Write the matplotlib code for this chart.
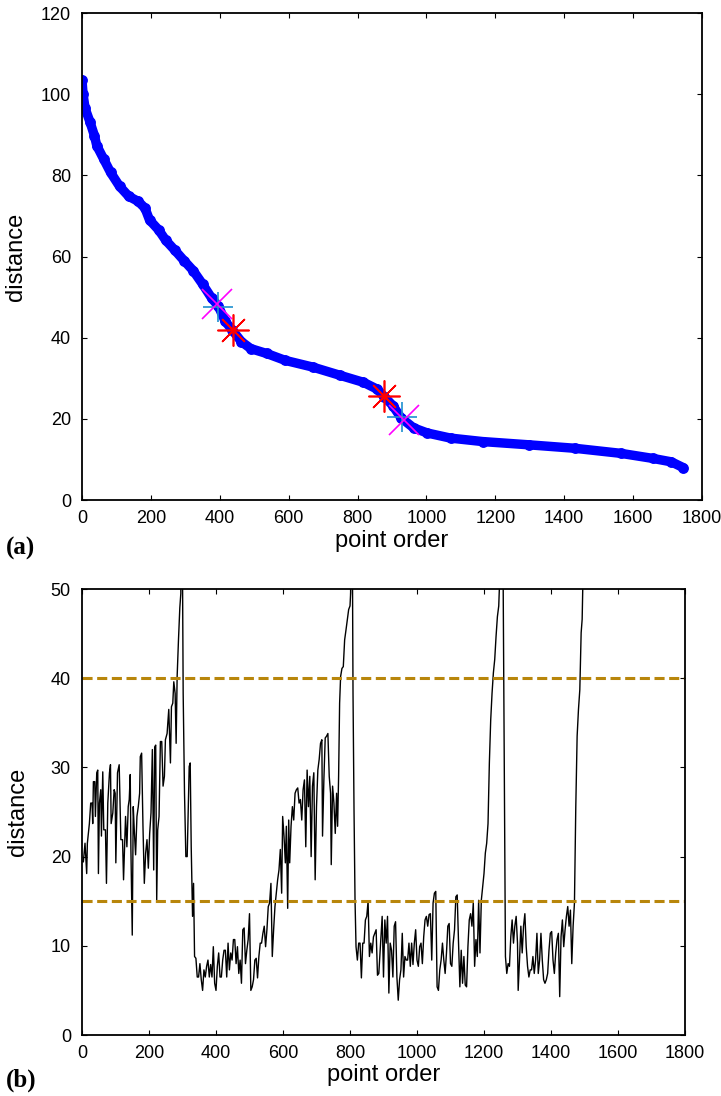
import matplotlib
matplotlib.use("Agg")
import matplotlib.pyplot as plt

plt.rcParams["font.family"] = ["Liberation Sans", "DejaVu Sans"]

# (a) sorted reachability distances
order_a = [0, 3, 9, 23, 36, 43, 63, 83, 109, 136, 163, 183, 196, 223, 243, 270,
           296, 323, 350, 376, 396, 416, 436, 463, 490, 536, 590, 670, 750, 817,
           857, 877, 903, 926, 963, 1003, 1070, 1163, 1297, 1430, 1564, 1657,
           1711, 1745]
dist_a = [103.5, 100, 96.5, 93.2, 89.8, 87.3, 84, 80.7, 77.3, 74.8, 73.6, 71.9,
          69, 66.5, 64, 61.5, 59, 56.5, 53.2, 49.8, 47.75, 44, 41.9, 39, 37.3,
          36.1, 34.4, 32.75, 30.7, 29, 27.3, 25.5, 23.2, 20.25, 17.75, 16.5,
          15.25, 14.4, 13.6, 12.75, 11.5, 10.25, 9.4, 8]

# highlighted points on (a)
plus_x, plus_y = [396, 928], [47.6, 20.5]
cross_x, cross_y = [391, 936], [48.4, 19.7]
star_x, star_y = [437, 877], [42.0, 25.6]

# (b) reachability plot
order_b = [0, 4, 9, 14, 16, 22, 26, 30, 32, 34, 38, 40, 44, 47, 49, 52, 56, 58,
           62, 65, 70, 73, 77, 82, 85, 87, 92, 96, 99, 101, 106, 111, 116, 121,
           124, 127, 130, 134, 138, 141, 144, 146, 150, 153, 156, 160, 164, 168,
           172, 174, 178, 182, 186, 190, 194, 198, 202, 206, 210, 214, 217, 220,
           223, 226, 230, 234, 238, 242, 246, 249, 254, 259, 264, 267, 271, 274,
           278, 281, 284, 288, 292, 295, 297, 300, 302, 306, 310, 314, 317, 320,
           323, 326, 330, 333, 336, 340, 344, 348, 352, 356, 360, 364, 368, 372,
           376, 380, 384, 388, 392, 396, 400, 404, 408, 412, 416, 420, 424, 428,
           432, 436, 440, 444, 448, 452, 456, 460, 464, 468, 472, 476, 480, 484,
           488, 492, 496, 500, 504, 508, 512, 516, 520, 524, 528, 532, 536, 540,
           544, 548, 552, 556, 560, 564, 568, 572, 576, 580, 584, 588, 592, 596,
           599, 603, 607, 610, 614, 617, 620, 624, 628, 632, 636, 640, 644, 648,
           652, 656, 660, 664, 668, 672, 676, 680, 684, 688, 692, 696, 700, 704,
           708, 712, 716, 718, 722, 726, 730, 734, 738, 742, 744, 748, 752, 756,
           760, 763, 766, 769, 772, 776, 780, 784, 788, 792, 796, 800, 802, 804,
           809, 812, 815, 818, 822, 826, 830, 834, 838, 842, 846, 850, 854, 858,
           862, 866, 870, 874, 878, 882, 886, 892, 896, 900, 904, 908, 912, 916,
           920, 924, 928, 932, 936, 940, 944, 948, 952, 956, 960, 964, 968, 972,
           976, 980, 984, 988, 992, 996, 1000, 1004, 1008, 1012, 1016, 1020,
           1024, 1028, 1032, 1036, 1040, 1044, 1048, 1052, 1056, 1060, 1064,
           1068, 1072, 1076, 1080, 1084, 1088, 1092, 1096, 1100, 1104, 1108,
           1112, 1116, 1120, 1124, 1128, 1132, 1136, 1140, 1144, 1148, 1152,
           1156, 1160, 1164, 1168, 1172, 1176, 1180, 1184, 1188, 1192, 1196,
           1200, 1204, 1208, 1212, 1216, 1220, 1224, 1228, 1232, 1236, 1240,
           1244, 1246, 1250, 1257, 1264, 1268, 1272, 1276, 1280, 1284, 1288,
           1292, 1296, 1300, 1302, 1306, 1310, 1314, 1318, 1322, 1326, 1330,
           1334, 1338, 1342, 1346, 1350, 1354, 1358, 1362, 1366, 1370, 1374,
           1378, 1382, 1386, 1390, 1394, 1398, 1402, 1406, 1410, 1414, 1418,
           1422, 1426, 1430, 1434, 1438, 1442, 1446, 1450, 1454, 1458, 1462,
           1466, 1470, 1474, 1478, 1482, 1486, 1490, 1493, 1495, 1500]
dist_b = [19.5, 19.4, 21.5, 18.1, 21.5, 23.7, 26, 26, 23.7, 28.4, 28.4, 24.5,
          29.4, 29.7, 18.1, 26, 27.5, 22.3, 29.5, 23, 23, 17, 26, 29.4, 30.3,
          23.7, 24.9, 27.5, 27.1, 19.3, 29.4, 30.3, 21.9, 21.9, 17.4, 21.1,
          24.5, 21.1, 25.6, 26.4, 29.2, 20.8, 11.2, 25.6, 23, 20.2, 24.5, 25.6,
          27.1, 31.2, 31.6, 23.4, 17, 20.4, 21.9, 18.7, 22.6, 24.9, 32, 18.5,
          32.3, 32.5, 15.1, 23, 24.5, 32.9, 32.9, 27.9, 29, 33.1, 33.8, 36.5,
          30.5, 36.8, 37.2, 39.6, 38.3, 32.7, 40.2, 44.3, 47.9, 49.5, 85, 52,
          38.3, 27.1, 20, 20, 25.2, 30.1, 30.5, 21.1, 13.3, 17, 8.8, 8.6, 6.5,
          6.5, 8, 6.2, 5, 7.3, 6.5, 7.7, 8.4, 6.5, 7.9, 6.5, 9.9, 5.8, 5, 7.7,
          9.2, 6.5, 6.5, 8.4, 9.5, 9.5, 6.5, 10.3, 7.3, 9.2, 8.4, 10.7, 10.7, 8,
          9.9, 6.9, 8.4, 5.8, 11.8, 12, 8, 9.5, 10.7, 13.6, 5, 5.4, 6.2, 8.4,
          8.6, 6.4, 8.8, 10.3, 10.3, 11.4, 12.2, 9.9, 11.8, 14.4, 14.8, 17, 8.8,
          11.8, 14.4, 15.9, 17.4, 18.5, 20.8, 15.9, 24.5, 22.3, 19.3, 23.4,
          14.2, 24.1, 19.3, 23.4, 25.6, 24.1, 27.1, 27.5, 27.7, 26, 26.4, 24.1,
          27.5, 28.6, 21.1, 29.7, 25.6, 29, 20, 27.9, 29.4, 17.4, 25.6, 29.7,
          30.9, 32.7, 33.1, 22.3, 28.6, 33.3, 33.5, 33.8, 29, 27.1, 19.1, 27.9,
          26, 22.6, 27.1, 23.4, 29, 37.2, 40.2, 41.1, 41.3, 44.3, 45.4, 46.6,
          47.7, 48.1, 49.6, 80, 38.3, 25.2, 15.1, 9.9, 8.4, 10.3, 10.3, 6.4,
          10.3, 10.3, 12.9, 13.3, 15, 8.8, 10.3, 9.2, 11, 11.4, 11.8, 6.7, 6.9,
          10.7, 13.3, 6.5, 12.9, 10.3, 13.3, 4.7, 10.3, 9.5, 6.5, 12.2, 12.7,
          6.5, 3.9, 6.2, 7.3, 11.4, 6.5, 8.8, 8.4, 8.4, 10.3, 7.7, 10.3, 7.9,
          10.3, 11.8, 8.4, 7.7, 9.9, 10.3, 8, 11, 12.9, 13.3, 12.2, 13.5, 13.6,
          8.4, 14.8, 15.9, 16.1, 5.4, 5, 7.3, 8.4, 10.3, 8.4, 6.9, 9.2, 12.2,
          12.5, 8, 7.7, 10.3, 11.8, 15.5, 15.7, 10.3, 5.4, 9.5, 5.8, 8.8, 5.6,
          5.4, 9.9, 12.9, 13.6, 12.2, 14.8, 7.7, 10.7, 8.8, 15.1, 9.2, 15.1,
          16.6, 18.1, 20.4, 21.5, 23.7, 30.5, 35.3, 38.3, 40.6, 42.1, 44.7,
          46.9, 48.1, 50.2, 80, 52, 8.8, 6.9, 8, 7.7, 11, 12.9, 10.3, 12.2,
          13.3, 10.3, 5, 8.4, 12.2, 9.2, 12.2, 13.6, 9.9, 7.7, 6.5, 7.3, 7.3,
          8.8, 6.9, 8.4, 11.4, 6.9, 8.4, 11.4, 8.4, 6.2, 5.8, 6.2, 6.9, 9.5,
          11.4, 11.6, 8.4, 6.9, 9.2, 10.7, 11.4, 4.3, 11, 12.9, 9.9, 11.8, 13.3,
          14.4, 12.2, 14, 8, 12.2, 14.8, 25.6, 33.5, 36.5, 38.7, 45.1, 46.6,
          50.5, 60]

thresholds = [40, 15]

W, H = 721, 1096
fig = plt.figure(figsize=(W / 100, H / 100), dpi=100)

ax1 = fig.add_axes([82 / W, 1 - 500 / H, 620 / W, 487 / H])
ax2 = fig.add_axes([82 / W, 1 - 1035 / H, 603 / W, 446 / H])

# --- (a) ---
ax1.plot(order_a, dist_a, "-o", color="#0000ff", lw=6.8, ms=6.8,
         solid_capstyle="round", zorder=2)
ax1.plot(plus_x, plus_y, "+", color="#1e90d0", ms=22, mew=1.2, zorder=3)
ax1.plot(cross_x, cross_y, "x", color="#ff00ff", ms=21, mew=1.2, zorder=4)
ax1.plot(star_x, star_y, linestyle="none", marker=(8, 2, 0), color="#ff0000",
         ms=23, mew=1.2, zorder=5)
ax1.set_xlim(0, 1800)
ax1.set_ylim(0, 120)
ax1.set_xticks(range(0, 1801, 200))
ax1.set_yticks(range(0, 121, 20))

# --- (b) ---
ax2.plot(order_b, dist_b, color="black", lw=1.0)
for t in thresholds:
    ax2.axhline(t, color="#b8860b", lw=2.2, dashes=(3.3, 1.5))
ax2.set_xlim(0, 1800)
ax2.set_ylim(0, 50)
ax2.set_xticks(range(0, 1801, 200))
ax2.set_yticks(range(0, 51, 10))

for ax in (ax1, ax2):
    ax.tick_params(direction="in", top=True, right=True, length=3.6,
                   width=0.8, labelsize=13)
    ax.tick_params(axis="x", pad=7)
    ax.tick_params(axis="y", pad=8)
    for s in ax.spines.values():
        s.set_linewidth(1.3)
    ax.set_xlabel("point order", fontsize=17, labelpad=2)
    ax.set_ylabel("distance", fontsize=17)

ax1.yaxis.set_label_coords(-0.089, 0.5)
ax2.yaxis.set_label_coords(-0.088, 0.5)

fig.text(6 / W, 1 - 548 / H, "(a)", family="Liberation Serif",
         fontweight="bold", fontsize=18, va="center", ha="left")
fig.text(6 / W, 1 - 1080 / H, "(b)", family="Liberation Serif",
         fontweight="bold", fontsize=18, va="center", ha="left")

fig.savefig("out.png", dpi=100)
